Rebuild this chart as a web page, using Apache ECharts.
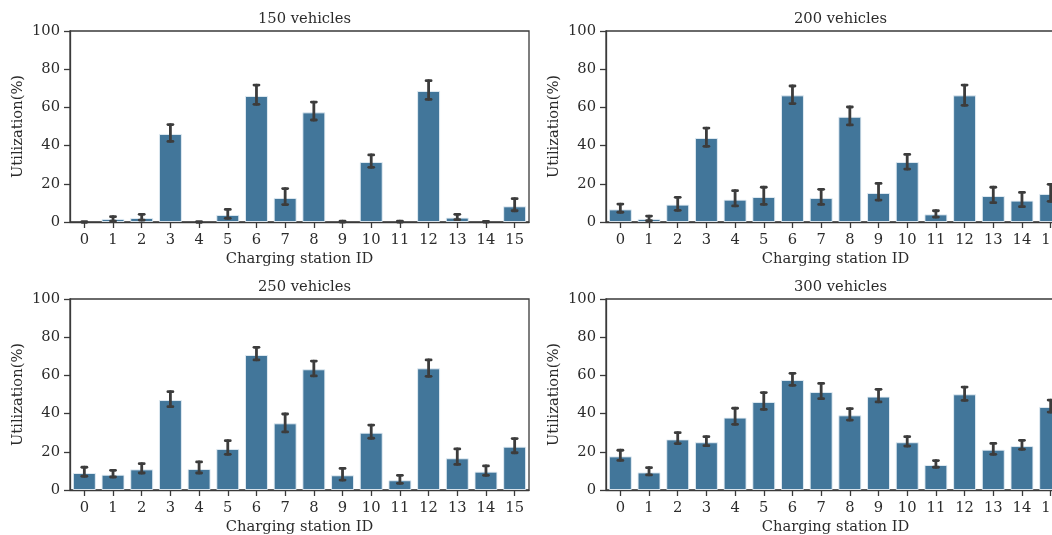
<!DOCTYPE html>
<html>
<head>
<meta charset="utf-8">
<script src="https://cdn.jsdelivr.net/npm/echarts@6/dist/echarts.min.js"></script>
<style>
html,body{margin:0;padding:0;background:#fff;}
#chart{width:1052px;height:535px;}
</style>
</head>
<body>
<div id="chart"></div>
<script>
const categories = ['0','1','2','3','4','5','6','7','8','9','10','11','12','13','14','15'];
const yTicks = [0, 20, 40, 60, 80, 100];
const titles = ['150 vehicles', '200 vehicles', '250 vehicles', '300 vehicles'];

const mean150 = [0.0, 1.6, 2.1, 46.1, 0.0, 3.7, 66.0, 12.6, 57.4, 0.0, 31.4, 0.0, 68.6, 2.3, 0.0, 8.2];
const low150  = [0.0, 0.5, 1.0, 42.2, 0.0, 1.9, 61.6, 9.1, 53.4, 0.0, 28.6, 0.0, 64.2, 1.2, 0.0, 5.9];
const high150 = [0.0, 2.8, 4.0, 51.0, 0.0, 6.6, 71.7, 17.5, 62.8, 0.5, 35.1, 0.4, 74.0, 4.0, 0.3, 12.2];

const mean200 = [6.6, 1.6, 9.1, 44.0, 11.7, 13.1, 66.3, 12.6, 55.1, 15.2, 31.4, 4.0, 66.3, 13.6, 11.2, 14.7];
const low200  = [5.1, 0.7, 6.1, 39.6, 8.4, 9.2, 62.0, 9.2, 50.8, 11.5, 27.7, 2.6, 61.1, 10.1, 8.0, 10.8];
const high200 = [9.4, 3.1, 12.9, 49.2, 16.4, 18.2, 71.2, 17.1, 60.2, 20.2, 35.4, 5.9, 71.7, 18.2, 15.5, 19.7];

const mean250 = [8.9, 8.0, 10.8, 47.1, 11.0, 21.5, 70.7, 34.9, 63.2, 7.7, 30.0, 5.1, 63.7, 16.6, 9.6, 22.7];
const low250  = [7.2, 6.8, 8.9, 43.6, 8.9, 18.7, 68.1, 30.4, 59.7, 5.2, 27.1, 3.5, 59.5, 13.4, 7.7, 19.5];
const high250 = [11.9, 10.3, 13.8, 51.5, 14.7, 25.8, 74.7, 39.8, 67.5, 11.3, 34.0, 7.7, 68.1, 21.5, 12.6, 26.9];

const mean300 = [17.6, 9.2, 26.5, 25.0, 37.9, 46.1, 57.6, 51.3, 39.1, 48.9, 25.0, 13.1, 50.1, 21.1, 23.0, 43.5];
const low300  = [15.5, 7.9, 24.3, 23.2, 34.4, 42.2, 54.8, 47.8, 36.6, 46.1, 23.0, 11.9, 46.9, 18.7, 21.3, 40.8];
const high300 = [20.8, 11.7, 30.0, 27.9, 42.8, 51.0, 61.1, 55.8, 42.6, 52.7, 27.9, 15.4, 53.9, 24.4, 26.0, 47.1];

const means = [mean150, mean200, mean250, mean300];
const lows = [low150, low200, low250, low300];
const highs = [high150, high200, high250, high300];

const FONT = 'DejaVu Serif';
const FS = 14.7;
const TXT = '#2b2b2b';
const AX = '#3a3a3a';
const BAR = '#42769a';
const ERR = '#3c3c3c';

const gridPos = [
  {left: 70, top: 31},
  {left: 606, top: 31},
  {left: 70, top: 299},
  {left: 606, top: 299}
];
const W = 459, H = 191;

const grids = [], xAxes = [], yAxes = [], series = [], title = [];
for (let i = 0; i < 4; i++) {
  grids.push({left: gridPos[i].left, top: gridPos[i].top, width: W, height: H, containLabel: false,
    outerBoundsMode: 'none',
    show: true, borderColor: AX, borderWidth: 1.3, backgroundColor: 'transparent'});
  title.push({text: titles[i], left: gridPos[i].left + W / 2, top: gridPos[i].top - 24, textAlign: 'center',
    textStyle: {fontFamily: FONT, fontSize: FS, fontWeight: 'normal', color: TXT}});
  xAxes.push({type: 'category', gridIndex: i, data: categories,
    name: 'Charging station ID', nameLocation: 'middle', nameGap: 30,
    nameTextStyle: {fontFamily: FONT, fontSize: FS, color: TXT},
    axisLine: {show: true, lineStyle: {color: AX, width: 1.3}},
    axisTick: {show: true, alignWithLabel: true, length: 6, lineStyle: {color: AX, width: 1.3}},
    axisLabel: {fontFamily: FONT, fontSize: FS, color: TXT, margin: 11, interval: 0},
    splitLine: {show: false}});
  yAxes.push({type: 'value', gridIndex: i, min: yTicks[0], max: yTicks[yTicks.length - 1], interval: 20,
    name: 'Utilization(%)', nameLocation: 'middle', nameGap: 44,
    nameTextStyle: {fontFamily: FONT, fontSize: FS, color: TXT},
    axisLine: {show: true, lineStyle: {color: AX, width: 1.3}},
    axisTick: {show: true, length: 6, lineStyle: {color: AX, width: 1.3}},
    axisLabel: {fontFamily: FONT, fontSize: FS, color: TXT, margin: 10},
    splitLine: {show: false}});
  series.push({type: 'bar', xAxisIndex: i, yAxisIndex: i,
    data: means[i].map(v => v === 0 ? {value: v, itemStyle: {borderWidth: 0}} : v),
    barWidth: '80%',
    itemStyle: {color: BAR, borderColor: 'rgba(230,238,245,0.9)', borderWidth: 1},
    silent: true, animation: false, z: 2});
  const errData = categories.map((c, k) => [k, lows[i][k], highs[i][k]]);
  series.push({type: 'custom', xAxisIndex: i, yAxisIndex: i, data: errData, animation: false, z: 5,
    renderItem: function (params, api) {
      const x = api.value(0);
      const lo = api.coord([x, api.value(1)]);
      const hi = api.coord([x, api.value(2)]);
      const cap = 2.5;
      const st = {stroke: ERR, lineWidth: 2.8, lineCap: 'round'};
      return {type: 'group', children: [
        {type: 'line', shape: {x1: lo[0], y1: lo[1], x2: hi[0], y2: hi[1]}, style: st},
        {type: 'line', shape: {x1: lo[0] - cap, y1: lo[1], x2: lo[0] + cap, y2: lo[1]}, style: st},
        {type: 'line', shape: {x1: hi[0] - cap, y1: hi[1], x2: hi[0] + cap, y2: hi[1]}, style: st}
      ]};
    }});
}

const chart = echarts.init(document.getElementById('chart'), null, {renderer: 'canvas'});
chart.setOption({
  backgroundColor: '#ffffff',
  animation: false,
  title: title,
  grid: grids,
  xAxis: xAxes,
  yAxis: yAxes,
  series: series
});
</script>
</body>
</html>
